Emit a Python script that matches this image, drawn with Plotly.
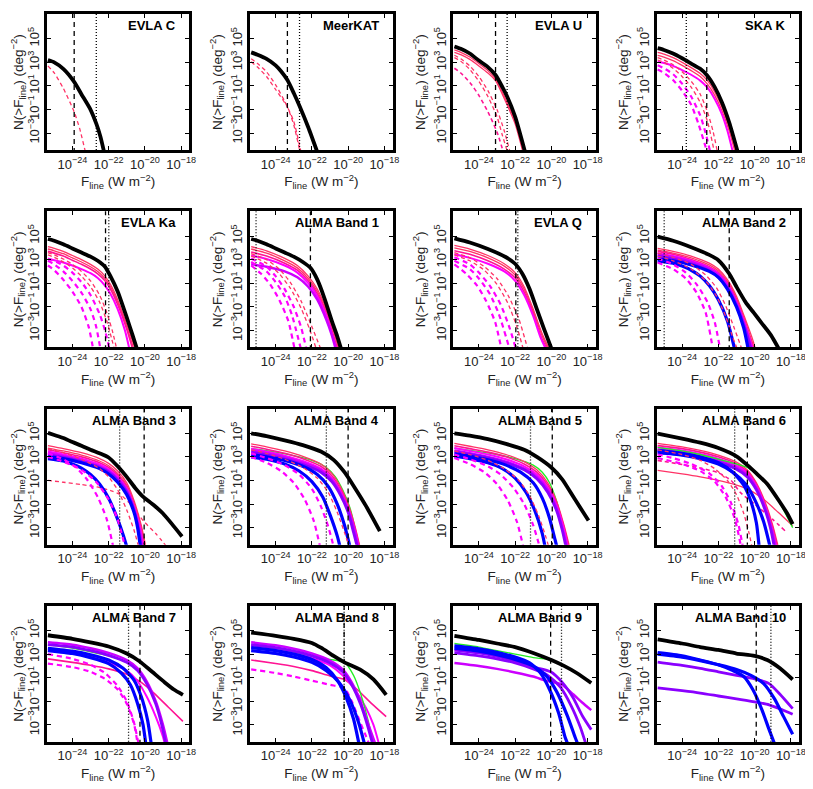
import plotly.graph_objects as go
from plotly.subplots import make_subplots

# panel names, in reading order
titles = ["EVLA C", "MeerKAT", "EVLA U", "SKA K",
          "EVLA Ka", "ALMA Band 1", "EVLA Q", "ALMA Band 2",
          "ALMA Band 3", "ALMA Band 4", "ALMA Band 5", "ALMA Band 6",
          "ALMA Band 7", "ALMA Band 8", "ALMA Band 9", "ALMA Band 10"]

# log10 of the sensitivity limits (W m^-2)
dashed_x = [-23.9, -23.35, -23.08, -22.64, -22.17, -22.08, -21.96, -21.4,
            -20.04, -20.0, -19.95, -20.4, -20.27, -20.22, -20.04, -19.91]
dotted_x = [-22.68, -22.68, -22.44, -23.77, -21.99, -25.08, -21.85, -24.99,
            -21.39, -21.2, -21.15, -21.1, -20.9, -20.22, -19.44, -19.1]

# counts: (series, [(log10 F, log10 N), ...])
evla_c = [
    ("r1d", [(-25.35, 2.7), (-25, 2.1), (-24.5, 0.8), (-23.9, -1.2), (-23.6, -2.6), (-23.28, -4.6)]),
    ("tot", [(-25.35, 3.2), (-25, 3.0), (-24.5, 2.45), (-23.9, 1.35), (-23.5, 0.3), (-23, -1.0),
             (-22.68, -2.2), (-22.45, -3.3), (-22.25, -4.6)]),
]
meerkat = [
    ("r1d", [(-25.35, 3.05), (-25, 2.6), (-24.5, 1.8), (-24, 0.7), (-23.35, -0.8), (-23, -2.3), (-22.65, -4.6)]),
    ("r1d", [(-25.35, 3.3), (-25, 2.9), (-24.5, 2.2), (-24, 1.1), (-23.5, -0.3), (-23, -2.0), (-22.6, -4.6)]),
    ("tot", [(-25.35, 3.85), (-25, 3.65), (-24.5, 3.3), (-24, 2.75), (-23.7, 2.25), (-23.35, 1.5), (-23, 0.4),
             (-22.68, -0.7), (-22.2, -2.5), (-21.7, -4.6)]),
]
evla_u = [
    ("r1", [(-25.35, 4.05), (-25, 3.85), (-24.5, 3.45), (-24, 2.9), (-23.5, 2.3), (-23.08, 1.6), (-22.5, -0.2), (-22, -2.0), (-21.53, -4.6)]),
    ("r1", [(-25.35, 3.85), (-25, 3.65), (-24.5, 3.25), (-24, 2.7), (-23.5, 2.1), (-23.08, 1.45), (-22.5, -0.4), (-22, -2.2), (-21.57, -4.6)]),
    ("r1d", [(-25.35, 3.6), (-25, 3.3), (-24.5, 2.7), (-24, 1.8), (-23.5, 0.6), (-23, -1.0), (-22.6, -2.8), (-22.28, -4.6)]),
    ("r1d", [(-25.35, 3.4), (-25, 3.1), (-24.5, 2.4), (-24, 1.4), (-23.5, 0.1), (-23, -1.6), (-22.7, -3.2), (-22.42, -4.6)]),
    ("r2d", [(-25.35, 2.5), (-25, 2.1), (-24.5, 1.3), (-24, 0.2), (-23.5, -1.2), (-23, -2.9), (-22.65, -4.6)]),
    ("tot", [(-25.35, 4.35), (-25, 4.15), (-24.5, 3.75), (-24, 3.15), (-23.5, 2.6), (-23.08, 1.93), (-22.7, 0.9),
             (-22.44, 0.1), (-22, -1.6), (-21.45, -4.6)]),
]
ska_k = [
    ("r1", [(-25.35, 3.85), (-25, 3.7), (-24.5, 3.4), (-24, 3.0), (-23.5, 2.55), (-23, 2.05), (-22.6, 1.45), (-22.2, 0.5), (-21.8, -0.8), (-21.4, -2.5), (-21.02, -4.6)]),
    ("r1", [(-25.35, 3.6), (-25, 3.45), (-24.5, 3.15), (-24, 2.75), (-23.5, 2.3), (-23, 1.8), (-22.6, 1.15), (-22.2, 0.2), (-21.8, -1.1), (-21.4, -2.8), (-21.08, -4.6)]),
    ("m", [(-25.35, 3.05), (-25, 2.95), (-24.5, 2.7), (-24, 2.35), (-23.5, 1.95), (-23, 1.45), (-22.6, 0.85), (-22.2, -0.1), (-21.8, -1.4), (-21.5, -2.8), (-21.2, -4.6)]),
    ("r1d", [(-25.35, 3.4), (-25, 3.2), (-24.5, 2.8), (-24, 2.2), (-23.5, 1.4), (-23, 0.3), (-22.6, -1.2), (-22.3, -2.8), (-22.05, -4.6)]),
    ("r1d", [(-25.35, 3.2), (-25, 3.0), (-24.5, 2.5), (-24, 1.8), (-23.5, 0.9), (-23, -0.4), (-22.6, -2.0), (-22.22, -4.6)]),
    ("md", [(-25.35, 2.75), (-25, 2.5), (-24.5, 2.0), (-24, 1.2), (-23.5, 0.1), (-23, -1.5), (-22.7, -3.0), (-22.45, -4.6)]),
    ("md", [(-25.35, 2.4), (-25, 2.1), (-24.5, 1.5), (-24, 0.6), (-23.5, -0.6), (-23.1, -2.2), (-22.62, -4.6)]),
    ("tot", [(-25.35, 4.2), (-25, 4.05), (-24.5, 3.75), (-24, 3.35), (-23.5, 2.9), (-23, 2.45), (-22.64, 1.93),
             (-22.2, 0.9), (-21.8, -0.4), (-21.4, -2.1), (-20.93, -4.6)]),
]
evla_ka = [
    ("r1", [(-25.35, 4.1), (-25, 3.95), (-24.5, 3.7), (-24, 3.35), (-23.5, 3.0), (-23, 2.6), (-22.6, 2.2), (-22.2, 1.6), (-21.9, 0.9), (-21.5, -0.4), (-21, -2.5), (-20.52, -4.6)]),
    ("r1", [(-25.35, 3.9), (-25, 3.75), (-24.5, 3.5), (-24, 3.15), (-23.5, 2.8), (-23, 2.4), (-22.6, 2.0), (-22.2, 1.4), (-21.9, 0.7), (-21.5, -0.6), (-21, -2.7), (-20.6, -4.6)]),
    ("r2", [(-25.35, 3.7), (-25, 3.55), (-24.5, 3.3), (-24, 2.95), (-23.5, 2.6), (-23, 2.2), (-22.6, 1.8), (-22.2, 1.2), (-21.9, 0.5), (-21.5, -0.8), (-21, -2.9), (-20.67, -4.6)]),
    ("m", [(-25.35, 3.05), (-25, 2.95), (-24.5, 2.75), (-24, 2.5), (-23.5, 2.2), (-23, 1.85), (-22.6, 1.45), (-22.2, 0.8), (-21.9, 0.1), (-21.5, -1.2), (-21.1, -3.0), (-20.85, -4.6)]),
    ("r1d", [(-25.35, 3.6), (-25, 3.4), (-24.5, 3.05), (-24, 2.6), (-23.5, 2.0), (-23, 1.2), (-22.5, 0.0), (-22.1, -1.5), (-21.8, -3.0), (-21.55, -4.6)]),
    ("r1d", [(-25.35, 3.4), (-25, 3.2), (-24.5, 2.8), (-24, 2.3), (-23.5, 1.6), (-23, 0.7), (-22.5, -0.6), (-22.1, -2.2), (-21.85, -3.6), (-21.68, -4.6)]),
    ("md", [(-25.35, 2.5), (-25, 2.1), (-24.5, 1.3), (-24, 0.3), (-23.5, -1.0), (-23.1, -2.7), (-22.85, -4.6)]),
    ("md", [(-25.35, 2.9), (-25, 2.6), (-24.5, 2.0), (-24, 1.2), (-23.5, 0.2), (-23, -1.2), (-22.7, -2.6), (-22.45, -4.6)]),
    ("md", [(-25.35, 3.1), (-25, 2.9), (-24.5, 2.5), (-24, 1.9), (-23.5, 1.1), (-23, 0.0), (-22.5, -1.6), (-22.2, -3.0), (-21.95, -4.6)]),
    ("tot", [(-25.35, 4.75), (-25, 4.6), (-24.5, 4.3), (-24, 3.95), (-23.5, 3.6), (-23, 3.25), (-22.6, 2.9), (-22.2, 2.4),
             (-21.9, 1.6), (-21.5, 0.3), (-21, -1.9), (-20.7, -3.3), (-20.43, -4.6)]),
]
alma_b1 = [
    ("r1", [(-25.35, 4.1), (-24.5, 3.75), (-23.5, 3.1), (-22.8, 2.5), (-22.2, 1.6), (-21.7, 0.5), (-21.2, -1.2), (-20.8, -2.9), (-20.47, -4.6)]),
    ("r1", [(-25.35, 3.9), (-24.5, 3.55), (-23.5, 2.9), (-22.8, 2.3), (-22.2, 1.4), (-21.7, 0.3), (-21.2, -1.4), (-20.8, -3.1), (-20.52, -4.6)]),
    ("r2", [(-25.35, 3.65), (-24.5, 3.3), (-23.5, 2.7), (-22.8, 2.1), (-22.2, 1.2), (-21.7, 0.1), (-21.2, -1.6), (-20.85, -3.2), (-20.58, -4.6)]),
    ("m", [(-25.35, 3.35), (-24.5, 3.05), (-23.5, 2.5), (-22.8, 1.9), (-22.2, 1.0), (-21.7, -0.1), (-21.2, -1.8), (-20.9, -3.3), (-20.64, -4.6)]),
    ("p", [(-25.35, 2.6), (-24.5, 2.4), (-23.5, 2.0), (-22.8, 1.5), (-22.2, 0.7), (-21.7, -0.4), (-21.2, -2.1), (-20.9, -3.4), (-20.68, -4.6)]),
    ("r1d", [(-25.35, 3.5), (-24.5, 3.0), (-23.8, 2.2), (-23.2, 1.1), (-22.6, -0.5), (-22.1, -2.3), (-21.5, -4.6)]),
    ("r1d", [(-25.35, 3.3), (-24.5, 2.7), (-23.8, 1.8), (-23.2, 0.6), (-22.6, -1.1), (-22.1, -3.0), (-21.75, -4.6)]),
    ("md", [(-25.35, 3.1), (-24.5, 2.4), (-24, 1.6), (-23.5, 0.5), (-23, -1.0), (-22.6, -2.7), (-22.3, -4.6)]),
    ("md", [(-25.35, 2.8), (-24.5, 2.0), (-24, 1.1), (-23.5, -0.1), (-23.1, -1.7), (-22.6, -4.6)]),
    ("md", [(-25.35, 2.5), (-24.8, 1.8), (-24.3, 0.9), (-23.8, -0.4), (-23.3, -2.2), (-22.95, -4.6)]),
    ("tot", [(-25.35, 4.75), (-25, 4.6), (-24.5, 4.3), (-24, 3.95), (-23.5, 3.6), (-23, 3.25), (-22.5, 2.8), (-22.08, 2.3),
             (-21.7, 1.3), (-21.3, -0.3), (-20.9, -2.2), (-20.6, -3.5), (-20.38, -4.6)]),
]
evla_q = [
    ("r1", [(-25.35, 4.2), (-24.5, 3.9), (-23.5, 3.35), (-22.6, 2.65), (-22, 1.9), (-21.5, 0.7), (-21, -1.2), (-20.5, -3.3), (-20.1, -4.6)]),
    ("r1", [(-25.35, 4.0), (-24.5, 3.7), (-23.5, 3.15), (-22.6, 2.45), (-22, 1.7), (-21.5, 0.5), (-21, -1.4), (-20.5, -3.5), (-20.16, -4.6)]),
    ("r2", [(-25.35, 3.75), (-24.5, 3.45), (-23.5, 2.9), (-22.6, 2.2), (-22, 1.45), (-21.5, 0.25), (-21, -1.6), (-20.55, -3.6), (-20.22, -4.6)]),
    ("m", [(-25.35, 3.45), (-24.5, 3.15), (-23.5, 2.65), (-22.6, 2.0), (-22, 1.2), (-21.5, 0.0), (-21, -1.8), (-20.6, -3.6), (-20.3, -4.6)]),
    ("r1d", [(-25.35, 3.6), (-24.5, 3.15), (-23.7, 2.4), (-23, 1.4), (-22.4, 0.0), (-21.8, -2.0), (-21.3, -4.6)]),
    ("r1d", [(-25.35, 3.4), (-24.5, 2.9), (-23.7, 2.1), (-23, 0.9), (-22.4, -0.7), (-21.9, -2.7), (-21.55, -4.6)]),
    ("md", [(-25.35, 3.2), (-24.5, 2.6), (-24, 1.9), (-23.4, 0.8), (-22.8, -0.8), (-22.3, -2.8), (-21.95, -4.6)]),
    ("md", [(-25.35, 2.9), (-24.5, 2.2), (-24, 1.4), (-23.4, 0.1), (-22.9, -1.6), (-22.3, -4.6)]),
    ("md", [(-25.35, 2.6), (-24.7, 1.8), (-24.1, 0.8), (-23.6, -0.5), (-23.1, -2.3), (-22.75, -4.6)]),
    ("tot", [(-25.35, 4.8), (-24.5, 4.45), (-23.5, 3.9), (-22.5, 3.2), (-22, 2.65), (-21.6, 1.8), (-21.2, 0.5),
             (-20.8, -1.2), (-20.4, -2.9), (-19.98, -4.6)]),
]
alma_b2 = [
    ("r1", [(-25.35, 3.95), (-24.5, 3.7), (-23.5, 3.3), (-22.5, 2.7), (-22, 2.2), (-21.5, 1.3), (-21, -0.1), (-20.5, -2.1), (-20.1, -3.8), (-19.95, -4.6)]),
    ("r1", [(-25.35, 3.8), (-24.5, 3.55), (-23.5, 3.15), (-22.5, 2.55), (-22, 2.05), (-21.5, 1.15), (-21, -0.3), (-20.5, -2.3), (-20.15, -3.9), (-20.0, -4.6)]),
    ("r2", [(-25.35, 3.7), (-24.5, 3.45), (-23.5, 3.0), (-22.5, 2.4), (-22, 1.9), (-21.5, 1.0), (-21, -0.45), (-20.5, -2.5), (-20.05, -4.6)]),
    ("m", [(-25.35, 3.55), (-24.5, 3.3), (-23.5, 2.9), (-22.5, 2.3), (-22, 1.8), (-21.5, 0.9), (-21, -0.6), (-20.5, -2.6), (-20.1, -4.6)]),
    ("p", [(-25.35, 3.45), (-24.5, 3.2), (-23.5, 2.8), (-22.5, 2.2), (-22, 1.7), (-21.5, 0.8), (-21, -0.7), (-20.5, -2.8), (-20.15, -4.6)]),
    ("v", [(-25.35, 3.3), (-24.5, 3.05), (-23.5, 2.65), (-22.5, 2.05), (-22, 1.5), (-21.5, 0.6), (-21, -0.9), (-20.5, -3.0), (-20.2, -4.6)]),
    ("b", [(-25.35, 3.05), (-24.5, 2.9), (-23.5, 2.55), (-22.5, 2.0), (-22, 1.5), (-21.5, 0.5), (-21, -1.0), (-20.6, -2.8), (-20.35, -4.6)]),
    ("b", [(-25.35, 2.9), (-24.5, 2.7), (-24, 2.45), (-23.5, 2.1), (-23, 1.6), (-22.5, 0.8), (-22, -0.4), (-21.5, -2.2), (-21.1, -4.6)]),
    ("r1d", [(-25.35, 3.55), (-24.5, 3.2), (-23.5, 2.6), (-22.7, 1.7), (-22.1, 0.6), (-21.6, -0.9), (-21.1, -2.9), (-20.7, -4.6)]),
    ("r1d", [(-25.35, 3.3), (-24.5, 2.9), (-23.5, 2.2), (-22.7, 1.2), (-22.1, -0.1), (-21.6, -1.8), (-21.2, -3.6), (-20.95, -4.6)]),
    ("md", [(-25.35, 3.1), (-24.5, 2.6), (-23.8, 1.9), (-23.2, 0.9), (-22.6, -0.6), (-22.2, -2.3), (-21.9, -4.6)]),
    ("md", [(-25.35, 2.75), (-24.5, 2.2), (-23.8, 1.4), (-23.2, 0.2), (-22.7, -1.5), (-22.3, -4.6)]),
    ("tot", [(-25.35, 4.95), (-24.5, 4.6), (-23.5, 4.05), (-22.5, 3.4), (-22, 2.95), (-21.4, 1.8), (-21, 0.7),
             (-20.5, -0.6), (-20.05, -1.5), (-19.6, -2.4), (-19.1, -3.4), (-18.65, -4.6)]),
]
alma_b3 = [
    ("r1d", [(-25.35, 1.0), (-24.5, 0.85), (-23.5, 0.65), (-22.5, 0.4), (-21.8, 0.1), (-21.35, -0.2), (-20.8, -1.0), (-20.1, -2.4), (-19.4, -3.5), (-18.8, -4.6)]),
    ("r1", [(-25.35, 3.95), (-24.5, 3.7), (-23.5, 3.35), (-22.5, 2.85), (-22, 2.45), (-21.5, 1.8), (-21, 0.8), (-20.6, -0.7), (-20.2, -2.8), (-19.95, -4.6)]),
    ("r1", [(-25.35, 3.75), (-24.5, 3.5), (-23.5, 3.15), (-22.5, 2.65), (-22, 2.25), (-21.5, 1.6), (-21, 0.6), (-20.6, -0.9), (-20.2, -3.0), (-20.0, -4.6)]),
    ("r2", [(-25.35, 3.6), (-24.5, 3.35), (-23.5, 3.0), (-22.5, 2.5), (-22, 2.1), (-21.5, 1.45), (-21, 0.45), (-20.6, -1.1), (-20.25, -3.0), (-20.05, -4.6)]),
    ("m", [(-25.35, 3.45), (-24.5, 3.2), (-23.5, 2.85), (-22.5, 2.35), (-22, 1.95), (-21.5, 1.3), (-21, 0.3), (-20.6, -1.2), (-20.25, -3.1), (-20.1, -4.6)]),
    ("p", [(-25.35, 3.3), (-24.5, 3.05), (-23.5, 2.7), (-22.5, 2.2), (-22, 1.8), (-21.5, 1.15), (-21, 0.15), (-20.6, -1.4), (-20.3, -3.2), (-20.15, -4.6)]),
    ("v", [(-25.35, 3.15), (-24.5, 2.95), (-23.5, 2.6), (-22.5, 2.1), (-22, 1.7), (-21.5, 1.0), (-21, 0.0), (-20.6, -1.5), (-20.35, -3.2), (-20.2, -4.6)]),
    ("b", [(-25.35, 3.0), (-24.5, 2.85), (-23.5, 2.5), (-22.5, 2.0), (-22, 1.55), (-21.5, 0.85), (-21, -0.2), (-20.6, -1.7), (-20.4, -3.0), (-20.25, -4.6)]),
    ("b", [(-25.35, 2.85), (-24.5, 2.65), (-24, 2.4), (-23.5, 2.05), (-23, 1.5), (-22.5, 0.7), (-22, -0.5), (-21.5, -2.3), (-21.2, -3.6), (-21.0, -4.6)]),
    ("r1d", [(-25.35, 3.7), (-24.5, 3.35), (-23.5, 2.8), (-22.5, 2.0), (-22, 1.3), (-21.5, 0.2), (-21, -1.5), (-20.6, -3.2), (-20.35, -4.6)]),
    ("md", [(-25.35, 3.3), (-24.5, 2.8), (-23.8, 2.1), (-23.2, 1.1), (-22.6, -0.4), (-22.1, -2.3), (-21.75, -4.6)]),
    ("md", [(-25.35, 3.0), (-24.5, 2.6), (-23.5, 1.9), (-22.7, 0.9), (-22, -0.6), (-21.5, -2.3), (-21.1, -4.6)]),
    ("tot", [(-25.35, 5.03), (-25, 4.85), (-24.5, 4.6), (-24, 4.25), (-23.5, 3.95), (-23, 3.6), (-22.5, 3.3), (-22, 2.95),
             (-21.5, 2.2), (-21, 1.3), (-20.5, 0.3), (-20.15, -0.3), (-19.5, -1.1), (-19, -1.8), (-18.5, -2.7), (-17.95, -3.75)]),
]
alma_b4 = [
    ("g", [(-25.35, 3.7), (-24, 3.4), (-23, 3.1), (-22, 2.7), (-21.2, 2.1), (-20.7, 1.3), (-20.3, 0.2), (-19.9, -1.3), (-19.6, -3.2), (-19.45, -4.6)]),
    ("r1", [(-25.35, 4.1), (-24.5, 3.85), (-23.5, 3.5), (-22.5, 3.05), (-21.5, 2.4), (-20.9, 1.6), (-20.4, 0.4), (-20, -1.0), (-19.6, -3.0), (-19.35, -4.6)]),
    ("r2", [(-25.35, 3.9), (-24.5, 3.65), (-23.5, 3.3), (-22.5, 2.85), (-21.5, 2.2), (-20.9, 1.4), (-20.4, 0.2), (-20, -1.2), (-19.6, -3.2), (-19.38, -4.6)]),
    ("m", [(-25.35, 3.7), (-24.5, 3.45), (-23.5, 3.1), (-22.5, 2.65), (-21.5, 2.0), (-20.9, 1.2), (-20.4, 0.0), (-20, -1.4), (-19.6, -3.4), (-19.42, -4.6)]),
    ("p", [(-25.35, 3.55), (-24.5, 3.3), (-23.5, 2.95), (-22.5, 2.5), (-21.5, 1.85), (-20.9, 1.05), (-20.4, -0.15), (-20, -1.5), (-19.6, -3.5), (-19.46, -4.6)]),
    ("v", [(-25.35, 3.4), (-24.5, 3.15), (-23.5, 2.8), (-22.5, 2.35), (-21.5, 1.7), (-20.9, 0.9), (-20.4, -0.3), (-20, -1.7), (-19.7, -3.4), (-19.5, -4.6)]),
    ("b", [(-25.35, 3.2), (-24.5, 3.0), (-23.5, 2.7), (-22.5, 2.2), (-21.7, 1.5), (-21.1, 0.5), (-20.6, -1.0), (-20.2, -2.8), (-19.9, -4.6)]),
    ("b", [(-25.35, 3.0), (-24.5, 2.8), (-23.5, 2.4), (-22.7, 1.8), (-22, 0.9), (-21.4, -0.4), (-21, -1.9), (-20.6, -3.7), (-20.45, -4.6)]),
    ("r1d", [(-25.35, 3.6), (-24.5, 3.3), (-23.5, 2.8), (-22.5, 2.1), (-21.7, 1.2), (-21.1, 0.0), (-20.6, -1.7), (-20.2, -3.4), (-19.95, -4.6)]),
    ("md", [(-25.35, 3.3), (-24.5, 2.9), (-23.5, 2.3), (-22.7, 1.5), (-22, 0.3), (-21.5, -1.2), (-21.1, -2.9), (-20.8, -4.6)]),
    ("md", [(-25.35, 3.0), (-24.5, 2.5), (-23.7, 1.8), (-23, 0.8), (-22.4, -0.6), (-21.9, -2.4), (-21.55, -4.6)]),
    ("tot", [(-25.35, 5.0), (-24.5, 4.75), (-23.5, 4.4), (-22.5, 4.0), (-21.5, 3.45), (-20.8, 2.75), (-20.2, 1.7),
             (-19.6, 0.3), (-19.0, -1.2), (-18.25, -3.3)]),
]
alma_b5 = [
    ("g", [(-25.35, 3.75), (-24, 3.45), (-23, 3.2), (-22, 2.85), (-21, 2.3), (-20.5, 1.7), (-20.1, 0.8), (-19.7, -0.8), (-19.35, -2.9), (-19.12, -4.6)]),
    ("r1", [(-25.35, 4.15), (-24.5, 3.9), (-23.5, 3.6), (-22.5, 3.2), (-21.5, 2.6), (-20.8, 1.9), (-20.2, 0.8), (-19.7, -0.8), (-19.3, -2.8), (-19.0, -4.6)]),
    ("r2", [(-25.35, 3.95), (-24.5, 3.7), (-23.5, 3.4), (-22.5, 3.0), (-21.5, 2.4), (-20.8, 1.7), (-20.2, 0.6), (-19.7, -1.0), (-19.3, -3.0), (-19.05, -4.6)]),
    ("m", [(-25.35, 3.75), (-24.5, 3.5), (-23.5, 3.2), (-22.5, 2.8), (-21.5, 2.2), (-20.8, 1.5), (-20.2, 0.4), (-19.7, -1.2), (-19.3, -3.2), (-19.1, -4.6)]),
    ("p", [(-25.35, 3.55), (-24.5, 3.3), (-23.5, 3.0), (-22.5, 2.6), (-21.5, 2.0), (-20.8, 1.3), (-20.2, 0.2), (-19.7, -1.4), (-19.35, -3.3), (-19.15, -4.6)]),
    ("v", [(-25.35, 3.4), (-24.5, 3.2), (-23.5, 2.9), (-22.5, 2.5), (-21.5, 1.9), (-20.8, 1.15), (-20.2, 0.0), (-19.7, -1.6), (-19.4, -3.2), (-19.2, -4.6)]),
    ("b", [(-25.35, 3.25), (-24.5, 3.05), (-23.5, 2.75), (-22.5, 2.3), (-21.7, 1.7), (-21, 0.8), (-20.5, -0.5), (-20.1, -2.2), (-19.8, -4.0), (-19.7, -4.6)]),
    ("b", [(-25.35, 3.05), (-24.5, 2.85), (-23.5, 2.5), (-22.7, 2.0), (-22, 1.2), (-21.4, 0.0), (-20.9, -1.6), (-20.5, -3.5), (-20.35, -4.6)]),
    ("r1d", [(-25.35, 3.5), (-24.5, 3.2), (-23.5, 2.7), (-22.6, 2.0), (-21.8, 1.0), (-21.2, -0.3), (-20.7, -2.0), (-20.3, -3.8), (-20.15, -4.6)]),
    ("md", [(-25.35, 3.2), (-24.5, 2.8), (-23.5, 2.2), (-22.8, 1.5), (-22.1, 0.4), (-21.5, -1.0), (-21.0, -2.8), (-20.65, -4.6)]),
    ("md", [(-25.35, 2.9), (-24.5, 2.4), (-23.7, 1.7), (-23, 0.7), (-22.4, -0.7), (-21.9, -2.5), (-21.55, -4.6)]),
    ("tot", [(-25.35, 5.0), (-24.5, 4.8), (-23.5, 4.5), (-22.5, 4.1), (-21.5, 3.6), (-20.8, 3.0), (-20.0, 2.1),
             (-19.4, 1.1), (-18.7, -0.6), (-17.95, -2.4)]),
]
alma_b6 = [
    ("r1", [(-25.35, 1.85), (-24, 1.55), (-23, 1.3), (-22, 1.0), (-21, 0.6), (-20.3, 0.2), (-19.5, -0.6), (-18.7, -1.7), (-17.9, -2.85)]),
    ("r2d", [(-25.35, 2.7), (-24, 2.35), (-23, 2.05), (-22, 1.65), (-21.3, 1.0), (-20.8, 0.0), (-20.0, -1.0), (-19.0, -2.3), (-18.3, -3.3)]),
    ("r1", [(-25.35, 4.15), (-24, 3.85), (-23, 3.55), (-22, 3.15), (-21, 2.55), (-20.4, 1.9), (-19.9, 0.8), (-19.4, -0.9), (-19.0, -2.8), (-18.7, -4.6)]),
    ("r2", [(-25.35, 3.95), (-24, 3.7), (-23, 3.4), (-22, 3.0), (-21, 2.4), (-20.4, 1.75), (-19.9, 0.65), (-19.4, -1.1), (-19.0, -3.0), (-18.75, -4.6)]),
    ("m", [(-25.35, 3.8), (-24, 3.55), (-23, 3.25), (-22, 2.85), (-21, 2.25), (-20.4, 1.6), (-19.9, 0.5), (-19.4, -1.3), (-19.05, -3.1), (-18.8, -4.6)]),
    ("p", [(-25.35, 3.6), (-24, 3.4), (-23, 3.1), (-22, 2.7), (-21, 2.1), (-20.4, 1.45), (-19.9, 0.35), (-19.4, -1.4), (-19.05, -3.2), (-18.85, -4.6)]),
    ("v", [(-25.35, 3.45), (-24, 3.25), (-23, 2.95), (-22, 2.55), (-21, 1.95), (-20.4, 1.3), (-19.9, 0.2), (-19.4, -1.6), (-19.1, -3.2), (-18.92, -4.6)]),
    ("b", [(-25.35, 3.55), (-24, 3.3), (-23, 3.0), (-22, 2.5), (-21.2, 1.7), (-20.6, 0.6), (-20.2, -0.8), (-19.9, -2.6), (-19.75, -4.6)]),
    ("b", [(-25.35, 3.35), (-24, 3.15), (-23, 2.85), (-22, 2.4), (-21.2, 1.7), (-20.5, 0.7), (-20, -0.6), (-19.5, -2.5), (-19.15, -4.6)]),
    ("r1d", [(-25.35, 3.6), (-24, 3.2), (-23, 2.7), (-22.2, 2.0), (-21.5, 1.0), (-21, -0.2), (-20.6, -1.8), (-20.3, -3.5), (-20.15, -4.6)]),
    ("md", [(-25.35, 3.2), (-24.5, 2.9), (-23.5, 2.4), (-22.5, 1.6), (-21.8, 0.5), (-21.3, -0.9), (-20.9, -2.7), (-20.65, -4.6)]),
    ("md", [(-25.35, 2.9), (-24, 2.4), (-23, 1.8), (-22.2, 0.9), (-21.6, -0.4), (-21.1, -2.2), (-20.75, -4.6)]),
    ("g", [(-25.35, 3.8), (-24, 3.5), (-23, 3.2), (-22, 2.8), (-21, 2.4), (-20.4, 2.1), (-19.8, 1.4), (-19.3, 0.6), (-18.6, -0.95), (-17.9, -3.0)]),
    ("tot", [(-25.35, 4.97), (-24, 4.55), (-23, 4.2), (-22, 3.75), (-21, 3.05), (-20.4, 2.3), (-19.9, 1.6), (-19.3, 0.7),
             (-18.6, -0.85), (-18.2, -1.8), (-17.9, -2.7)]),
]
alma_b7 = [
    ("r2", [(-25.35, 2.6), (-24, 2.3), (-23, 2.05), (-22, 1.75), (-21, 1.3), (-20.2, 0.6), (-19.5, -0.3), (-18.7, -1.5), (-17.9, -2.7)]),
    ("md", [(-25.35, 3.0), (-24, 2.6), (-23, 2.1), (-22.2, 1.4), (-21.5, 0.3), (-21, -1.0), (-20.6, -2.8), (-20.35, -4.6)]),
    ("md", [(-25.35, 2.2), (-24, 1.9), (-23, 1.5), (-22.2, 0.9), (-21.5, 0.0), (-21, -1.2), (-20.6, -2.9), (-20.4, -4.6)]),
    ("m", [(-25.35, 3.3), (-24, 3.05), (-23, 2.75), (-22, 2.3), (-21, 1.6), (-20.4, 0.7), (-19.9, -0.6), (-19.4, -2.3), (-19.0, -4.0), (-18.9, -4.6)]),
    ("g", [(-25.35, 3.8), (-24, 3.5), (-23, 3.2), (-22, 2.85), (-21, 2.3), (-20.4, 1.65), (-19.9, 0.6), (-19.4, -1.1), (-19.0, -3.1), (-18.78, -4.6)]),
    ("p", [(-25.35, 4.0), (-24, 3.8), (-23, 3.5), (-22, 3.1), (-21, 2.5), (-20.4, 1.8), (-19.9, 0.7), (-19.4, -1.0), (-19.0, -3.0), (-18.75, -4.6)]),
    ("v", [(-25.35, 3.8), (-24, 3.6), (-23, 3.3), (-22, 2.9), (-21, 2.3), (-20.4, 1.6), (-19.9, 0.5), (-19.4, -1.2), (-19.05, -3.1), (-18.85, -4.6)]),
    ("b", [(-25.35, 3.5), (-24, 3.25), (-23, 2.95), (-22, 2.5), (-21.2, 1.8), (-20.6, 0.8), (-20.2, -0.6), (-19.85, -2.6), (-19.65, -4.6)]),
    ("b", [(-25.35, 3.3), (-24, 3.05), (-23, 2.7), (-22, 2.2), (-21.3, 1.4), (-20.8, 0.4), (-20.4, -1.2), (-20.1, -3.0), (-19.95, -4.6)]),
    ("tot", [(-25.35, 4.6), (-24, 4.3), (-23, 4.0), (-22, 3.65), (-21, 3.05), (-20.3, 2.4), (-19.6, 1.5), (-18.9, 0.6),
             (-18.4, 0.0), (-17.9, -0.45)]),
]
alma_b8 = [
    ("r2", [(-25.35, 2.5), (-24, 2.2), (-23, 1.95), (-22, 1.6), (-21, 1.15), (-20.2, 0.85), (-19.5, 0.0), (-18.7, -1.2), (-17.9, -2.3)]),
    ("md", [(-25.35, 1.7), (-24, 1.4), (-23, 1.1), (-22, 0.75), (-21, 0.4), (-20.2, 0.1), (-19.8, -1.0), (-19.3, -2.9), (-19.0, -4.0), (-18.85, -4.6)]),
    ("m", [(-25.35, 3.6), (-24, 3.35), (-23, 3.05), (-22, 2.65), (-21, 2.05), (-20.3, 1.2), (-19.5, -0.3), (-19, -1.6), (-18.6, -3.0), (-18.3, -4.6)]),
    ("g", [(-25.35, 3.78), (-24, 3.5), (-23, 3.2), (-22, 2.85), (-21, 2.55), (-20.2, 2.3), (-19.7, 1.2), (-19.3, -0.4), (-18.9, -2.6), (-18.6, -4.6)]),
    ("p", [(-25.35, 4.0), (-24, 3.75), (-23, 3.45), (-22, 3.05), (-21, 2.45), (-20.3, 1.7), (-19.8, 0.6), (-19.3, -1.1), (-18.85, -3.1), (-18.5, -4.6)]),
    ("v", [(-25.35, 3.8), (-24, 3.55), (-23, 3.25), (-22, 2.85), (-21, 2.25), (-20.3, 1.5), (-19.8, 0.4), (-19.3, -1.3), (-18.9, -3.2), (-18.65, -4.6)]),
    ("b", [(-25.35, 3.55), (-24, 3.3), (-23, 3.0), (-22, 2.55), (-21.2, 1.85), (-20.6, 0.8), (-20.1, -0.7), (-19.7, -2.5), (-19.4, -4.6)]),
    ("b", [(-25.35, 3.3), (-24, 3.05), (-23, 2.75), (-22, 2.3), (-21.2, 1.6), (-20.5, 0.6), (-19.9, -0.9), (-19.4, -2.9), (-19.1, -4.6)]),
    ("tot", [(-25.35, 4.83), (-24, 4.55), (-23, 4.3), (-22, 3.95), (-21.5, 3.55), (-20.8, 2.85), (-20.2, 2.3),
             (-19.35, 1.7), (-18.6, 0.85), (-17.9, -0.45)]),
]
alma_b9 = [
    ("g", [(-25.35, 3.9), (-24, 3.6), (-23, 3.3), (-22, 3.0), (-21, 2.7), (-20.0, 2.55)]),
    ("p", [(-25.35, 2.25), (-24, 2.0), (-23, 1.75), (-22, 1.45), (-21, 1.1), (-20.3, 0.75), (-19.44, 0.43), (-18.8, -0.4), (-18.3, -1.1), (-17.8, -1.75)]),
    ("v", [(-25.35, 3.35), (-24, 3.1), (-23, 2.8), (-22, 2.4), (-21, 1.9), (-20.04, 1.5), (-19.4, 0.6), (-18.8, -0.7), (-18.3, -2.2), (-17.8, -3.4)]),
    ("v", [(-25.35, 3.1), (-24, 2.85), (-23, 2.6), (-22, 2.25), (-21, 1.75), (-20.2, 1.2), (-19.5, 0.2), (-18.9, -1.4), (-18.4, -3.2), (-18.1, -4.6)]),
    ("b", [(-25.35, 3.7), (-24, 3.45), (-23, 3.15), (-22, 2.75), (-21.2, 2.25), (-20.6, 1.4), (-20.1, 0.0), (-19.6, -2.0), (-19.25, -4.0), (-19.1, -4.6)]),
    ("b", [(-25.35, 3.5), (-24, 3.25), (-23, 2.95), (-22, 2.55), (-21, 2.0), (-20.3, 1.2), (-19.7, -0.2), (-19.1, -2.3), (-18.7, -4.0), (-18.55, -4.6)]),
    ("tot", [(-25.35, 4.55), (-24, 4.2), (-23, 3.9), (-22, 3.6), (-21, 3.1), (-20, 2.5), (-19.3, 2.0), (-18.6, 1.4), (-17.8, 0.55)]),
]
alma_b10 = [
    ("v", [(-25.35, 2.33), (-24, 2.05), (-23, 1.8), (-22, 1.5), (-21, 1.2), (-20, 0.9), (-19.2, 0.5), (-18.6, -0.4), (-17.9, -1.62)]),
    ("v", [(-25.35, 0.14), (-24, -0.1), (-23, -0.3), (-22, -0.55), (-21, -0.8), (-20, -1.05), (-19.2, -1.3), (-18.5, -1.7), (-17.9, -2.1)]),
    ("b", [(-25.35, 3.12), (-24, 2.85), (-23, 2.5), (-22, 2.1), (-21.2, 1.6), (-20.6, 1.1), (-20.1, 0.0), (-19.6, -1.7), (-19.2, -3.4), (-18.9, -4.6)]),
    ("b", [(-25.35, 3.0), (-24, 2.75), (-23, 2.45), (-22, 2.1), (-21, 1.7), (-20.2, 1.2), (-19.5, 0.5), (-18.9, -0.8), (-18.4, -2.3), (-17.9, -3.8)]),
    ("tot", [(-25.35, 4.25), (-24, 3.9), (-23, 3.6), (-22, 3.35), (-21, 3.05), (-20, 2.85), (-19.3, 2.5), (-18.6, 1.8), (-17.9, 0.85)]),
]

panels = [evla_c, meerkat, evla_u, ska_k, evla_ka, alma_b1, evla_q, alma_b2,
          alma_b3, alma_b4, alma_b5, alma_b6, alma_b7, alma_b8, alma_b9, alma_b10]

x_ticks = [-24, -22, -20, -18]
y_ticks = [-3, -1, 1, 3, 5]

# line styles for each series
STYLE = {
    "tot": dict(color="black", width=3.8),
    "r1": dict(color="#ff3366", width=1.3),
    "r1d": dict(color="#ff3366", width=1.3, dash="4px,3px"),
    "r2": dict(color="#ff1493", width=1.6),
    "r2d": dict(color="#ff1493", width=1.6, dash="4px,3px"),
    "m": dict(color="#ff00ff", width=2.0),
    "md": dict(color="#ff00ff", width=2.2, dash="5px,4px"),
    "p": dict(color="#cc00ff", width=2.5),
    "v": dict(color="#8a00ff", width=2.8),
    "b": dict(color="#0000ff", width=3.2),
    "g": dict(color="#22ee22", width=1.3),
}

FONT = "Liberation Sans, Arial, sans-serif"
XR = [-25.4, -17.55]
YR = [-4.45, 7.1]

fig = make_subplots(rows=4, cols=4, horizontal_spacing=0.0811, vertical_spacing=0.0838)

for i, curves in enumerate(panels):
    r, c = i // 4 + 1, i % 4 + 1
    for kind, pts in curves:
        fig.add_trace(go.Scatter(
            x=[10 ** p[0] for p in pts], y=[10 ** p[1] for p in pts],
            mode="lines", line=dict(shape="spline", smoothing=0.6, **STYLE[kind]),
            showlegend=False, hoverinfo="skip"), row=r, col=c)
    for xv, dash in ((dashed_x[i], "5px,4px"), (dotted_x[i], "1px,2px")):
        fig.add_trace(go.Scatter(
            x=[10 ** xv, 10 ** xv], y=[10 ** (YR[0] - 1), 10 ** (YR[1] + 1)],
            mode="lines", line=dict(color="black", width=1.3, dash=dash),
            showlegend=False, hoverinfo="skip"), row=r, col=c)
    n = "" if i == 0 else str(i + 1)
    fig.add_annotation(text="<b>%s</b>" % titles[i], xref="x%s domain" % n, yref="y%s domain" % n,
                       x=0.92, y=0.915, xanchor="right", yanchor="middle", showarrow=False,
                       font=dict(size=13, color="black", family=FONT))

axis_common = dict(showline=True, linewidth=2.6, linecolor="black", mirror="ticks",
                   ticks="inside", ticklen=4, tickwidth=1, tickcolor="black", automargin=False,
                   showgrid=False, zeroline=False, tickfont=dict(size=13, family=FONT, color="#222"),
                   title_font=dict(size=13.5, family=FONT, color="#222"))

fig.update_xaxes(type="log", range=XR, tickvals=[10 ** t for t in x_ticks],
                 ticktext=["10<sup>\u2212%d</sup>" % -t for t in x_ticks],
                 title_text="F<sub>line</sub> (W m<sup>\u22122</sup>)", title_standoff=4, **axis_common)
fig.update_yaxes(type="log", range=YR, tickvals=[10 ** t for t in y_ticks],
                 ticktext=["10<sup>%s</sup>" % (str(t).replace("-", "\u2212")) for t in y_ticks],
                 tickangle=-90,
                 title_text="N(>F<sub>line</sub>) (deg<sup>\u22122</sup>)", title_standoff=4, **axis_common)

# the page body adds an 8 px offset, so the figure is sized to fill the rest of the window
fig.update_layout(width=805, height=781, margin=dict(l=39, r=14, t=6, b=47),
                  plot_bgcolor="white", paper_bgcolor="white", font=dict(family=FONT))

fig.write_html("out.html")
